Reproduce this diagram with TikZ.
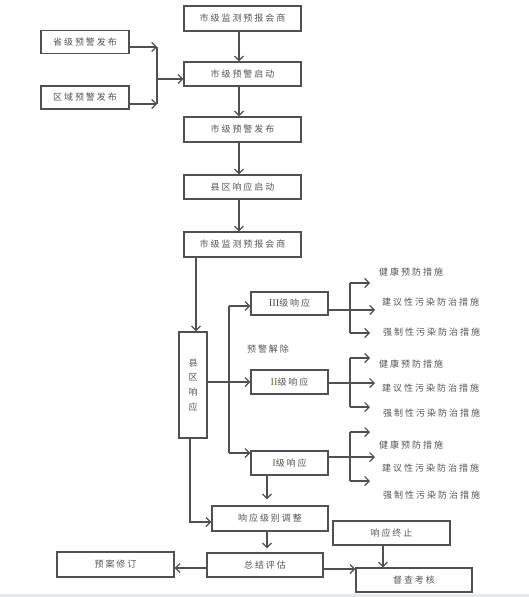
\documentclass[tikz,border=0pt]{standalone}
\usepackage{fontspec}
\newfontfamily\cjk[LetterSpace=22]{Noto Sans CJK SC}
\newfontfamily\cjkn{Noto Sans CJK SC}
\newfontfamily\rmn{Liberation Serif}
\usetikzlibrary{arrows.meta}
\definecolor{ln}{HTML}{505050}
\definecolor{tx}{HTML}{555555}
\definecolor{rn}{HTML}{8A6A30}
\definecolor{band}{HTML}{E6EAF0}
\begin{document}
\begin{tikzpicture}[x=1pt,y=-1pt,
  box/.style={draw=ln, line width=1.3pt, fill=white, inner sep=0pt, text=tx,
    font=\cjk\fontsize{9}{11}\selectfont, minimum width=117, minimum height=24},
  wire/.style={draw=ln, line width=1.25pt},
  arr/.style={wire, -{Straight Barb[length=4.5pt,width=9pt,line width=1.2pt]}},
  lbl/.style={text=tx, font=\cjk\fontsize{9}{11}\selectfont, anchor=west, inner sep=0pt},
  rom/.style={font=\rmn\fontsize{10.5}{11}\selectfont}]
\useasboundingbox (0,0) rectangle (529,597);
\fill[white] (0,0) rectangle (529,597);
\fill[band] (0,594) rectangle (529,597);

% top column
\node[box, minimum height=25] (b1) at (242.5,18.5) {市级监测预报会商};
\node[box, minimum width=88, minimum height=23] (sheng) at (85,42) {省级预警发布};
\node[box, minimum width=88, minimum height=23] (quyu) at (85,97.5) {区域预警发布};
\node[box] (b2) at (242.5,74) {市级预警启动};
\node[box, minimum height=25] (b3) at (242.5,129.5) {市级预警发布};
\node[box] (b4) at (242.5,187) {县区响应启动};
\node[box, minimum height=25] (b5) at (242.5,244.5) {市级监测预报会商};

% response
\node[box, minimum width=28, minimum height=106, align=center,
  font=\cjkn\fontsize{9}{14.7}\selectfont] (xq) at (193,385) {县\\区\\响\\应};
\node[box, minimum width=77, minimum height=23] (r3) at (289.5,303.5) {{\rmn\fontsize{10.5}{11}\selectfont\color{ln}III}级响应};
\node[box, minimum width=77] (r2) at (289.5,382) {{\rmn\fontsize{10.5}{11}\selectfont\color{rn}II}级响应};
\node[box, minimum width=77] (r1) at (289.5,463) {{\rmn\fontsize{10.5}{11}\selectfont\color{rn}I}级响应};
\node[text=tx, font=\cjk\fontsize{9}{11}\selectfont, inner sep=0pt] (jc) at (268,349) {预警解除};

% bottom
\node[box, minimum width=116, minimum height=25] (adj) at (270,518.5) {响应级别调整};
\node[box, minimum width=116] (zj) at (265,565) {总结评估};
\node[box] (zz) at (391.5,533) {响应终止};
\node[box, minimum width=116] (dc) at (414,580) {督查考核};
\node[box, minimum height=25] (ya) at (115.5,564.5) {预案修订};

% measures labels
\node[lbl] (h1) at (379,272) {健康预防措施};
\node[lbl] (j1) at (382,302) {建议性污染防治措施};
\node[lbl] (q1) at (383,332) {强制性污染防治措施};
\node[lbl] (h2) at (379,364) {健康预防措施};
\node[lbl] (j2) at (382,388) {建议性污染防治措施};
\node[lbl] (q2) at (383,413) {强制性污染防治措施};
\node[lbl] (h3) at (379,445) {健康预防措施};
\node[lbl] (j3) at (382,468) {建议性污染防治措施};
\node[lbl] (q3) at (383,495) {强制性污染防治措施};

% left merge
\coordinate (jt) at (157,47);
\coordinate (jb) at (157,104);
\coordinate (jm) at (157,79);
\draw[arr] (sheng.east |- jt) -- (jt);
\draw[arr] (quyu.east |- jb) -- (jb);
\draw[wire] (jt) -- (jb);
\draw[arr] (jm) -- (jm -| b2.west);

% main column arrows
\coordinate (cx) at (239,0);
\draw[arr] (b1.south -| cx) -- (b2.north -| cx);
\draw[arr] (b2.south -| cx) -- (b3.north -| cx);
\draw[arr] (b3.south -| cx) -- (b4.north -| cx);
\draw[arr] (b4.south -| cx) -- (b5.north -| cx);

\coordinate (xin) at ([xshift=3pt]xq.north);
\draw[arr] (xin |- b5.south) -- (xin);

% branches to levels
\draw[arr] (xq.east |- r2.west) -- (r2.west);
\coordinate (vt) at (229,306);
\coordinate (vb) at (229,453);
\draw[wire] (vt) -- (vb);
\draw[arr] (vt) -- (vt -| r3.west);
\draw[arr] (vb) -- (vb -| r1.west);

% group 1
\coordinate (g1t) at (350,283);
\coordinate (g1b) at (350,333);
\coordinate (g1m) at (375,310);
\draw[wire] (g1t) -- (g1b);
\draw[arr] (r3.east |- g1m) -- (g1m);
\draw[arr] (g1t) -- ++(20,0);
\draw[arr] (g1b) -- ++(20,0);
% group 2
\coordinate (g2t) at (350,358);
\coordinate (g2b) at (350,407);
\coordinate (g2m) at (375,383);
\draw[wire] (g2t) -- (g2b);
\draw[arr] (r2.east |- g2m) -- (g2m);
\draw[arr] (g2t) -- ++(20,0);
\draw[arr] (g2b) -- ++(20,0);
% group 3
\coordinate (g3t) at (350,432);
\coordinate (g3b) at (350,481);
\coordinate (g3m) at (375,457);
\draw[wire] (g3t) -- (g3b);
\draw[arr] (r1.east |- g3m) -- (g3m);
\draw[arr] (g3t) -- ++(20,0);
\draw[arr] (g3b) -- ++(20,0);

% lower flow
\coordinate (ax) at (267,0);
\draw[arr, shorten >=6pt] (r1.south -| ax) -- (adj.north -| ax);
\draw[arr, shorten >=4pt] (adj.south -| ax) -- (zj.north -| ax);
\coordinate (xout) at ([xshift=-3pt]xq.south);
\coordinate (ain) at ([yshift=-3.5pt]adj.west);
\draw[arr] (xout) |- (ain);
\coordinate (zl) at ([yshift=-3pt]zj.west);
\draw[arr] (zl) -- (zl -| ya.east);
\coordinate (zr) at ([yshift=-4pt]zj.east);
\draw[arr] (zr) -- (zr -| dc.west);
\coordinate (zx) at (383,0);
\draw[arr] (zz.south -| zx) -- (dc.north -| zx);
\end{tikzpicture}
\end{document}
